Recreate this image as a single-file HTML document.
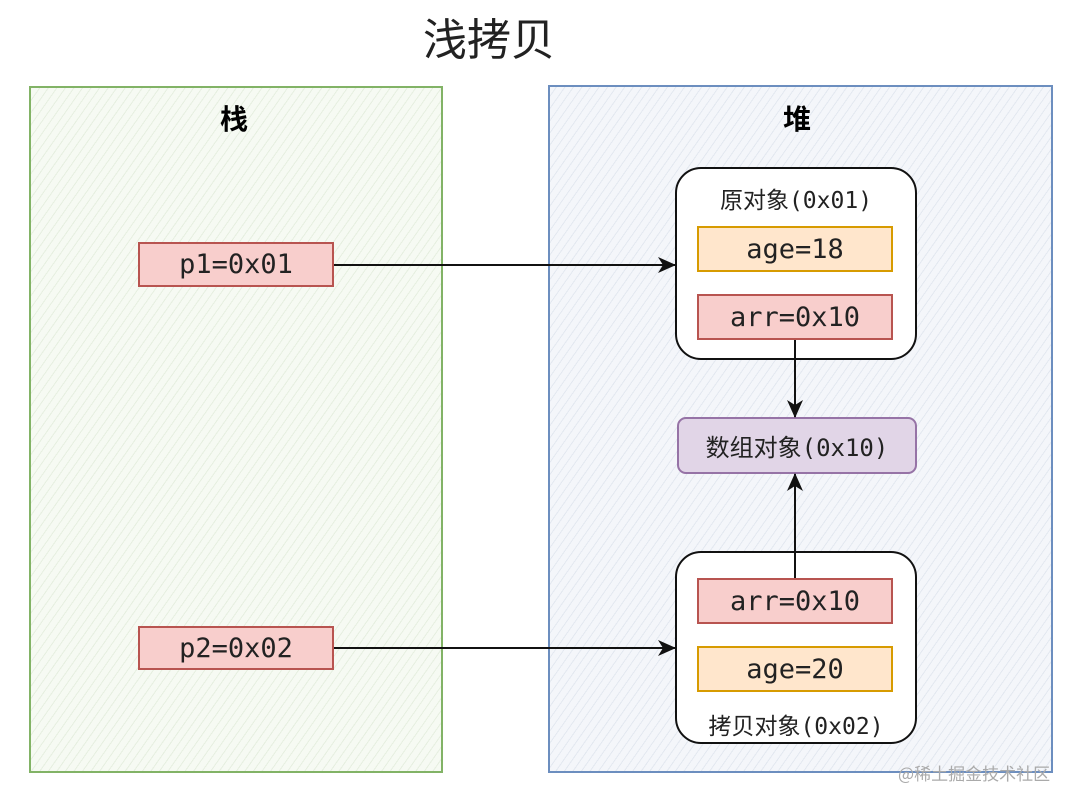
<!DOCTYPE html>
<html><head><meta charset="utf-8"><style>
*{margin:0;padding:0;box-sizing:border-box}
body{width:1080px;height:804px;background:#fff;position:relative;overflow:hidden;font-family:"Liberation Sans","Noto Sans CJK SC",sans-serif}
.a{position:absolute}
.zone{position:absolute;border:2px solid}
.box{position:absolute;border:2px solid;display:flex;align-items:center;justify-content:center;font-family:"DejaVu Sans Mono","Liberation Mono","Noto Sans CJK SC",monospace;font-size:27px;color:#222}
.red{background:#f8cecc;border-color:#b85450}
.org{background:#ffe6cc;border-color:#d79b00}
.obj{position:absolute;border:2px solid #111;border-radius:26px;background:#fff}
.lbl{position:absolute;width:100%;text-align:center;font-family:"DejaVu Sans Mono","Noto Sans CJK SC",monospace;font-size:23px;color:#222}
</style></head><body>
<div class="a" style="left:0;width:978px;top:4px;text-align:center;font-size:44px;color:#222;font-family:'Noto Sans CJK SC',sans-serif">浅拷贝</div>
<div class="zone" style="left:29px;top:86px;width:414px;height:687px;border-color:#82b366;background:repeating-linear-gradient(-55deg,#f6faf3 0 6px,#e6efe0 6px 7px)"></div>
<div class="zone" style="left:548px;top:85px;width:505px;height:688px;border-color:#6c8ebf;background:repeating-linear-gradient(-55deg,#f4f6fa 0 6px,#e3e8f0 6px 7px)"></div>
<div class="a" style="left:220px;top:98px;font-size:28px;font-weight:bold;font-family:'Noto Sans CJK SC',sans-serif">栈</div>
<div class="a" style="left:783px;top:98px;font-size:28px;font-weight:bold;font-family:'Noto Sans CJK SC',sans-serif">堆</div>
<div class="box red" style="left:138px;top:242px;width:196px;height:45px">p1=0x01</div>
<div class="box red" style="left:138px;top:626px;width:196px;height:44px">p2=0x02</div>
<div class="obj" style="left:675px;top:167px;width:242px;height:193px"><div class="lbl" style="top:12px">原对象(0x01)</div></div>
<div class="box org" style="left:697px;top:226px;width:196px;height:46px">age=18</div>
<div class="box red" style="left:697px;top:294px;width:196px;height:46px">arr=0x10</div>
<div class="box" style="left:677px;top:417px;width:240px;height:57px;background:#e1d5e7;border-color:#9673a6;border-radius:9px;font-size:24px">数组对象(0x10)</div>
<div class="obj" style="left:675px;top:551px;width:242px;height:193px"><div class="lbl" style="top:154px">拷贝对象(0x02)</div></div>
<div class="box red" style="left:697px;top:578px;width:196px;height:46px">arr=0x10</div>
<div class="box org" style="left:697px;top:646px;width:196px;height:46px">age=20</div>
<svg class="a" style="left:0;top:0" width="1080" height="804">
<defs><marker id="m" markerWidth="18" markerHeight="16" refX="17" refY="8" orient="auto" markerUnits="userSpaceOnUse"><path d="M0,0 L18,8 L0,16 L5,8z" fill="#111"/></marker></defs>
<g stroke="#111" stroke-width="2" fill="none" marker-end="url(#m)">
<line x1="334" y1="265" x2="675" y2="265"/>
<line x1="334" y1="648" x2="675" y2="648"/>
<line x1="795" y1="340" x2="795" y2="417"/>
<line x1="795" y1="578" x2="795" y2="474"/>
</g></svg>
<div class="a" style="left:898px;top:760px;font-size:17px;color:#aaa;font-family:'Noto Sans CJK SC',sans-serif">@稀土掘金技术社区</div>
</body></html>
